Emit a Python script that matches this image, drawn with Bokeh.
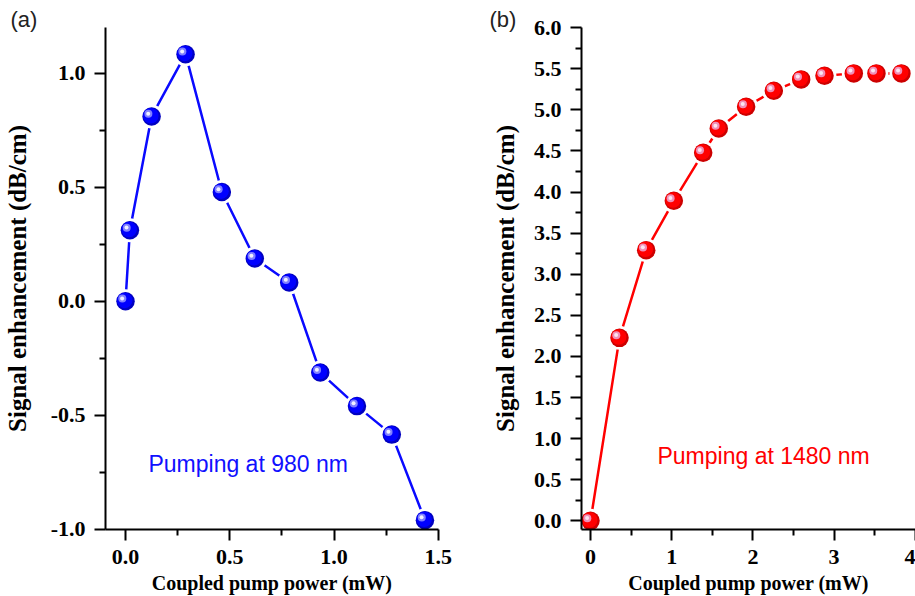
import numpy as np
from bokeh.plotting import figure
from bokeh.layouts import row
from bokeh.models import Range1d, FixedTicker, Label
from bokeh.embed import file_html
from bokeh.resources import INLINE

# ---------------- data ----------------
# Panel (a): pumping at 980 nm
power_980 = [0.0, 0.021, 0.125, 0.288, 0.462, 0.620, 0.785, 0.934, 1.110, 1.277, 1.436]
gain_980 = [0.0, 0.311, 0.810, 1.083, 0.479, 0.187, 0.082, -0.313, -0.460, -0.585, -0.960]

# Panel (b): pumping at 1480 nm
power_1480 = [0.0, 0.357, 0.686, 1.026, 1.388, 1.580, 1.917, 2.258, 2.595, 2.882, 3.243, 3.522, 3.830]
gain_1480 = [0.0, 2.226, 3.293, 3.893, 4.477, 4.773, 5.037, 5.231, 5.370, 5.414, 5.443, 5.443, 5.443]

# ticks
a_xticks = [0.0, 0.5, 1.0, 1.5]
a_xlabels = ["0.0", "0.5", "1.0", "1.5"]
a_xminor = [0.25, 0.75, 1.25]
a_yticks = [-1.0, -0.5, 0.0, 0.5, 1.0]
a_ylabels = ["-1.0", "-0.5", "0.0", "0.5", "1.0"]
a_yminor = [-0.75, -0.25, 0.25, 0.75]

b_xticks = [0, 1, 2, 3, 4]
b_xlabels = ["0", "1", "2", "3", "4"]
b_xminor = [0.5, 1.5, 2.5, 3.5]
b_yticks = [0.0, 0.5, 1.0, 1.5, 2.0, 2.5, 3.0, 3.5, 4.0, 4.5, 5.0, 5.5, 6.0]
b_ylabels = ["0.0", "0.5", "1.0", "1.5", "2.0", "2.5", "3.0", "3.5", "4.0", "4.5", "5.0", "5.5", "6.0"]
b_yminor = [0.25, 0.75, 1.25, 1.75, 2.25, 2.75, 3.25, 3.75, 4.25, 4.75, 5.25, 5.75]

x_title = "Coupled pump power (mW)"
y_title = "Signal enhancement (dB/cm)"

SERIF = "Liberation Serif"
SANS = "Liberation Sans"

FRAME_H = 502


def style_axes(p, xt, xl, xm, yt, yl, ym, ylab_standoff):
    for ax, t, l, m in ((p.xaxis[0], xt, xl, xm), (p.yaxis[0], yt, yl, ym)):
        ax.ticker = FixedTicker(ticks=t, minor_ticks=m)
        ax.major_label_overrides = {v: s for v, s in zip(t, l)}
        ax.axis_line_width = 2
        ax.axis_line_color = "black"
        ax.major_tick_line_width = 2
        ax.minor_tick_line_width = 2
        ax.major_tick_out = 11
        ax.major_tick_in = 0
        ax.minor_tick_out = 6
        ax.minor_tick_in = 0
        ax.major_label_text_font = SERIF
        ax.major_label_text_font_style = "bold"
        ax.major_label_text_font_size = "22px"
        ax.major_label_text_color = "black"
        ax.axis_label_text_font = SERIF
        ax.axis_label_text_font_style = "bold"
        ax.axis_label_text_color = "black"
    p.xaxis[0].axis_label = x_title
    p.xaxis[0].axis_label_text_font_size = "20px"
    p.xaxis[0].major_label_standoff = 9
    p.xaxis[0].axis_label_standoff = 5
    p.yaxis[0].axis_label = y_title
    p.yaxis[0].axis_label_text_font_size = "25px"
    p.yaxis[0].major_label_standoff = 9
    p.yaxis[0].axis_label_standoff = ylab_standoff


def draw_series(p, xs, ys, line_color, dark, base, ring, hi, sx, sy):
    xs = np.asarray(xs, dtype=float)
    ys = np.asarray(ys, dtype=float)
    p.line(xs, ys, line_color=line_color, line_width=2.5)
    p.scatter(xs, ys, size=24, fill_color="white", line_color=None)
    p.scatter(xs, ys, size=18.5, fill_color=dark, line_color=None)
    p.scatter(xs - 0.8 * sx, ys + 0.8 * sy, size=15.5, fill_color=base, line_color=None)
    p.scatter(xs - 3.2 * sx, ys + 2.6 * sy, size=8, fill_color=ring, line_color=None)
    p.scatter(xs - 3.4 * sx, ys + 2.8 * sy, size=4, fill_color=hi, line_color=None)


def make_fig(xr, yr, fw, left, right, panel_tag, tag_offset):
    p = figure(frame_width=fw, frame_height=FRAME_H,
               x_range=Range1d(*xr), y_range=Range1d(*yr),
               output_backend="svg", toolbar_location=None,
               min_border_left=left, min_border_right=right,
               min_border_top=27, min_border_bottom=67,
               title=panel_tag, title_location="above")
    p.title.align = "left"
    p.title.offset = tag_offset
    p.title.standoff = -9
    p.title.text_font = SANS
    p.title.text_font_style = "normal"
    p.title.text_font_size = "22px"
    p.title.text_color = "#222222"
    p.outline_line_color = None
    p.xgrid.visible = False
    p.ygrid.visible = False
    p.background_fill_color = "white"
    p.border_fill_color = "white"
    return p


# ---------------- panel (a) ----------------
a_xr = (-0.096, 1.501)
a_yr = (-1.001, 1.2)
a_fw = 333
p1 = make_fig(a_xr, a_yr, a_fw, 105, 22, "(a)", -95)
style_axes(p1, a_xticks, a_xlabels, a_xminor, a_yticks, a_ylabels, a_yminor, 17)
sx1 = (a_xr[1] - a_xr[0]) / a_fw
sy1 = (a_yr[1] - a_yr[0]) / FRAME_H
draw_series(p1, power_980, gain_980, "#0a0aff", "#0000c0", "#0000ff", "#8080ff", "#f0f0ff", sx1, sy1)
p1.add_layout(Label(x=0.11, y=-0.712, text="Pumping at 980 nm", text_font=SANS,
                    text_font_size="23px", text_color="#1010ff", text_baseline="alphabetic"))

# ---------------- panel (b) ----------------
b_xr = (-0.111, 4.003)
b_yr = (-0.105, 6.001)
b_fw = 334
p2 = make_fig(b_xr, b_yr, b_fw, 121, 0, "(b)", -92)
style_axes(p2, b_xticks, b_xlabels, b_xminor, b_yticks, b_ylabels, b_yminor, 12)
sx2 = (b_xr[1] - b_xr[0]) / b_fw
sy2 = (b_yr[1] - b_yr[0]) / FRAME_H
draw_series(p2, power_1480, gain_1480, "#ff0000", "#cc0000", "#ff0000", "#f090b8", "#fbe6f2", sx2, sy2)
p2.add_layout(Label(x=0.825, y=0.795, text="Pumping at 1480 nm", text_font=SANS,
                    text_font_size="23px", text_color="#ff0000", text_baseline="alphabetic"))

layout = row(p1, p2, spacing=0)
open("out.html", "w").write(file_html(layout, INLINE))
